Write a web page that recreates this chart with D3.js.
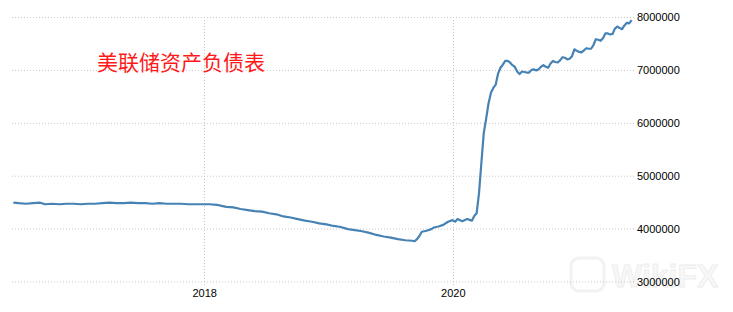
<!DOCTYPE html>
<html>
<head>
<meta charset="utf-8">
<script src="https://cdn.jsdelivr.net/npm/d3@7"></script>
<style>
  body { margin: 0; background: #fff; }
  svg { display: block; }
</style>
</head>
<body>
<div id="plot"></div>
<script>
  const title = "美联储资产负债表";

  const dates = [
    "2016-06-20", "2016-07-06", "2016-07-27", "2016-08-17", "2016-09-07", "2016-09-21",
    "2016-10-12", "2016-11-02", "2016-11-23", "2016-12-14", "2017-01-04", "2017-01-25",
    "2017-02-15", "2017-03-08", "2017-03-29", "2017-04-19", "2017-05-10", "2017-05-31",
    "2017-06-21", "2017-07-12", "2017-08-02", "2017-08-23", "2017-09-13", "2017-10-04",
    "2017-10-25", "2017-11-15", "2017-12-06", "2017-12-27", "2018-01-17", "2018-02-07",
    "2018-02-21", "2018-03-07", "2018-03-28", "2018-04-18", "2018-05-09", "2018-05-30",
    "2018-06-20", "2018-07-11", "2018-08-01", "2018-08-22", "2018-09-12", "2018-10-03",
    "2018-10-24", "2018-11-14", "2018-12-05", "2018-12-26", "2019-01-16", "2019-02-06",
    "2019-02-27", "2019-03-20", "2019-04-10", "2019-05-01", "2019-05-22", "2019-06-12",
    "2019-07-03", "2019-07-24", "2019-08-14", "2019-09-04", "2019-09-11", "2019-09-18",
    "2019-09-25", "2019-10-02", "2019-10-16", "2019-10-30", "2019-11-06", "2019-11-20",
    "2019-12-04", "2019-12-18", "2019-12-31", "2020-01-08", "2020-01-15", "2020-01-29",
    "2020-02-12", "2020-02-26", "2020-03-04", "2020-03-11", "2020-03-18", "2020-03-25",
    "2020-04-01", "2020-04-08", "2020-04-15", "2020-04-22", "2020-04-29", "2020-05-06",
    "2020-05-13", "2020-05-20", "2020-05-27", "2020-06-03", "2020-06-10", "2020-06-17",
    "2020-06-24", "2020-07-01", "2020-07-08", "2020-07-15", "2020-07-22", "2020-07-29",
    "2020-08-05", "2020-08-12", "2020-08-19", "2020-08-26", "2020-09-02", "2020-09-09",
    "2020-09-16", "2020-09-23", "2020-09-30", "2020-10-07", "2020-10-14", "2020-10-21",
    "2020-10-28", "2020-11-04", "2020-11-11", "2020-11-18", "2020-11-25", "2020-12-02",
    "2020-12-09", "2020-12-16", "2020-12-23", "2020-12-30", "2021-01-06", "2021-01-13",
    "2021-01-20", "2021-01-27", "2021-02-03", "2021-02-10", "2021-02-17", "2021-02-24",
    "2021-03-03", "2021-03-10", "2021-03-17", "2021-03-24", "2021-03-31", "2021-04-07",
    "2021-04-14", "2021-04-21", "2021-04-28", "2021-05-05", "2021-05-12", "2021-05-19",
    "2021-05-26", "2021-06-02", "2021-06-09"
  ];

  const assets = [
    4490000, 4480000, 4470000, 4480000, 4490000, 4460000,
    4470000, 4460000, 4470000, 4470000, 4460000, 4470000,
    4470000, 4480000, 4490000, 4480000, 4480000, 4490000,
    4480000, 4480000, 4470000, 4480000, 4470000, 4470000,
    4470000, 4460000, 4460000, 4460000, 4460000, 4450000,
    4430000, 4410000, 4400000, 4370000, 4350000, 4330000,
    4320000, 4290000, 4270000, 4230000, 4210000, 4180000,
    4150000, 4130000, 4100000, 4080000, 4050000, 4030000,
    3990000, 3970000, 3950000, 3920000, 3880000, 3850000,
    3830000, 3800000, 3780000, 3770000, 3760000, 3800000,
    3860000, 3940000, 3960000, 3990000, 4020000, 4040000,
    4070000, 4130000, 4160000, 4130000, 4180000, 4140000,
    4180000, 4150000, 4240000, 4290000, 4670000, 5250000,
    5810000, 6080000, 6370000, 6570000, 6660000, 6720000,
    6930000, 7040000, 7100000, 7170000, 7170000, 7140000,
    7090000, 7060000, 6970000, 6920000, 6970000, 6960000,
    6950000, 6950000, 7000000, 7010000, 6990000, 7010000,
    7060000, 7090000, 7060000, 7040000, 7120000, 7170000,
    7150000, 7140000, 7180000, 7240000, 7230000, 7200000,
    7210000, 7260000, 7390000, 7360000, 7340000, 7330000,
    7370000, 7410000, 7400000, 7400000, 7470000, 7580000,
    7570000, 7550000, 7600000, 7690000, 7690000, 7670000,
    7680000, 7780000, 7820000, 7790000, 7770000, 7840000,
    7890000, 7880000, 7940000
  ];

  const yTicks = [3000000, 4000000, 5000000, 6000000, 7000000, 8000000];
  const xTicks = ["2018-01-01", "2020-01-01"];

  const parseDate = d3.timeParse("%Y-%m-%d");
  const data = dates.map((d, i) => ({ date: parseDate(d), value: assets[i] }));

  const width = 733, height = 312;
  const plotLeft = 11, plotRight = 634, plotTop = 17, plotBottom = 281.5;

  const svg = d3.select("div#plot")
    .append("svg")
      .attr("width", width)
      .attr("height", height)
      .style("font-family", "'Liberation Sans', Arial, sans-serif");

  const xScale = d3.scaleTime()
    .domain([parseDate("2016-06-13"), parseDate("2021-06-16")])
    .range([plotLeft, plotRight]);

  const yScale = d3.scaleLinear()
    .domain([3000000, 8000000])
    .range([plotBottom, plotTop]);

  // watermark
  const wm = svg.append("g").attr("opacity", 0.9);
  wm.append("rect")
    .attr("x", 571).attr("y", 258).attr("width", 33).attr("height", 33)
    .attr("rx", 8)
    .attr("fill", "none")
    .attr("stroke", "#f1f1f1")
    .attr("stroke-width", 3);
  wm.append("text")
    .attr("x", 612)
    .attr("y", 287)
    .style("font-size", "32px")
    .style("font-weight", "bold")
    .attr("fill", "#f7f7f7")
    .attr("stroke", "#ececec")
    .attr("stroke-width", 0.8)
    .text("WikiFX");

  // vertical grid
  svg.append("g")
    .selectAll("line")
    .data(xTicks.map(parseDate))
    .enter()
    .append("line")
      .attr("x1", d => Math.round(xScale(d)) + 0.5)
      .attr("x2", d => Math.round(xScale(d)) + 0.5)
      .attr("y1", plotTop)
      .attr("y2", plotBottom + 5)
      .attr("stroke", "#c8c8c8")
      .attr("stroke-dasharray", "1,2");

  // y axis with grid
  const yAxis = d3.axisRight(yScale)
    .tickValues(yTicks)
    .tickFormat(d3.format("d"))
    .tickSizeInner(-(plotRight - plotLeft))
    .tickSizeOuter(0)
    .tickPadding(3);

  const gy = svg.append("g")
    .attr("transform", `translate(${plotRight}, 0)`)
    .call(yAxis);
  gy.select(".domain").remove();
  gy.selectAll("line")
    .attr("stroke", "#c8c8c8")
    .attr("stroke-dasharray", "1,2");
  gy.selectAll("text")
    .style("font-size", "11px")
    .attr("fill", "#000");

  // x axis labels
  const xAxis = d3.axisBottom(xScale)
    .tickValues(xTicks.map(parseDate))
    .tickFormat(d3.timeFormat("%Y"))
    .tickSize(0)
    .tickPadding(8);

  const gx = svg.append("g")
    .attr("transform", `translate(0, ${plotBottom})`)
    .call(xAxis);
  gx.select(".domain").remove();
  gx.selectAll("text")
    .style("font-size", "11px")
    .attr("fill", "#000");

  // line
  const line = d3.line()
    .x(d => xScale(d.date))
    .y(d => yScale(d.value));

  svg.append("path")
    .datum(data)
    .attr("fill", "none")
    .attr("stroke", "#4682b4")
    .attr("stroke-width", 2.2)
    .attr("stroke-linejoin", "round")
    .attr("d", line);

  svg.append("text")
    .attr("x", 97)
    .attr("y", 70)
    .style("font-family", "'Noto Sans CJK SC', sans-serif")
    .style("font-size", "21px")
    .attr("fill", "#ff1a1a")
    .text(title);
</script>
</body>
</html>
